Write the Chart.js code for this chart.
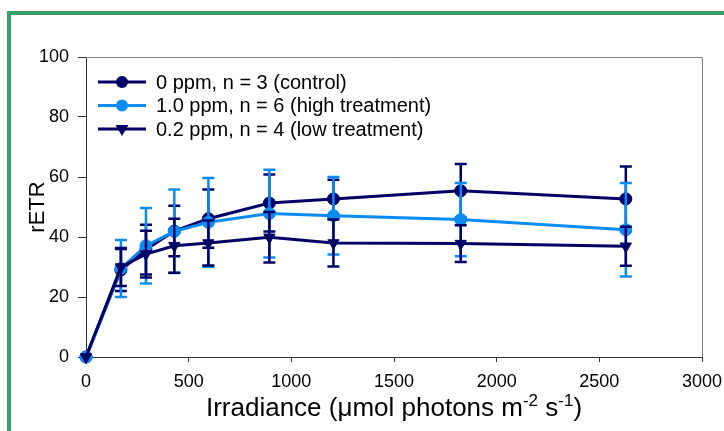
<!DOCTYPE html>
<html lang="en">
<head>
    <meta charset="UTF-8">
    <title>rETR vs irradiance</title>
    <script src="https://cdn.jsdelivr.net/npm/chart.js"></script>
    <style>
        body { margin: 0; background: #fff; }
        #frame {
            position: absolute; left: 7px; top: 11px; width: 800px; height: 500px;
            border-left: 4px solid #3a9d6c; border-top: 4px solid #3a9d6c;
        }
        #chart { position: absolute; left: 0; top: 0; }
    </style>
</head>
<body>
    <div id="frame"></div>
    <canvas id="chart" width="724" height="431"></canvas>

    <script>
        // irradiance steps (x) and rETR means / error bars
        const irradiance = [0, 170, 292, 430, 596, 893, 1205, 1825, 2629];
        const control = [0, 29, 35.8, 42, 46.1, 51.3, 52.7, 55.4, 52.7];
        const controlErr = [0, 7, 8.3, 8.4, 9.7, 9.5, 6.4, 8.9, 10.8];
        const high = [0, 29.5, 37.1, 41.9, 44.9, 47.8, 47.1, 45.8, 42.4];
        const highErr = [0, 9.5, 12.6, 13.9, 14.8, 14.6, 12.9, 12.2, 15.6];
        const low = [0, 30, 34.3, 37.1, 38, 39.9, 38, 37.8, 36.9];
        const lowErr = [0, 6.3, 7.8, 9, 7.5, 8.4, 7.8, 6.1, 6.5];
        const seriesNames = ['0 ppm, n = 3 (control)', '1.0 ppm, n = 6 (high treatment)', '0.2 ppm, n = 4 (low treatment)'];

        const navy = '#000066';
        const sky = '#0a8cf5';
        const font = "'Liberation Sans', Arial, sans-serif";

        function pts(ys) {
            return irradiance.map((x, i) => ({ x: x, y: ys[i] }));
        }

        function makeSet(label, ys, errs, color, style, order) {
            return {
                label: label,
                data: pts(ys),
                errors: errs,
                borderColor: color,
                backgroundColor: color,
                borderWidth: 3,
                pointStyle: style,
                pointRotation: style === 'triangle' ? 180 : 0,
                pointRadius: style === 'triangle' ? 6.5 : 6,
                pointBorderWidth: 1,
                tension: 0,
                clip: false,
                order: order
            };
        }

        // error bars, drawn with each series so the stacking follows the series
        const errorBars = {
            id: 'errorBars',
            beforeDatasetDraw(chart, args) {
                const ds = chart.data.datasets[args.index];
                const yScale = chart.scales.y;
                const ctx = chart.ctx;
                ctx.save();
                ctx.strokeStyle = ds.borderColor;
                ctx.lineWidth = 2.5;
                args.meta.data.forEach((pt, i) => {
                    const e = ds.errors[i];
                    if (!e) return;
                    const v = ds.data[i].y;
                    const top = yScale.getPixelForValue(v + e);
                    const bot = yScale.getPixelForValue(v - e);
                    ctx.beginPath();
                    ctx.moveTo(pt.x, top); ctx.lineTo(pt.x, bot);
                    ctx.moveTo(pt.x - 6, top); ctx.lineTo(pt.x + 6, top);
                    ctx.moveTo(pt.x - 6, bot); ctx.lineTo(pt.x + 6, bot);
                    ctx.stroke();
                });
                ctx.restore();
            }
        };

        // plot frame, axis titles and the legend
        const decorations = {
            id: 'decorations',
            beforeDatasetsDraw(chart) {
                const ctx = chart.ctx;
                const a = chart.chartArea;
                ctx.save();
                ctx.strokeStyle = '#808080';
                ctx.lineWidth = 1;
                ctx.beginPath();
                ctx.moveTo(a.left, a.top + 0.5);
                ctx.lineTo(a.right + 0.5, a.top + 0.5);
                ctx.lineTo(a.right + 0.5, a.bottom);
                ctx.stroke();
                ctx.restore();
            },
            afterDraw(chart) {
                const ctx = chart.ctx;
                const a = chart.chartArea;
                ctx.save();
                ctx.fillStyle = '#000';

                // y title
                ctx.font = '22px ' + font;
                ctx.textAlign = 'center';
                ctx.textBaseline = 'middle';
                ctx.translate(38, (a.top + a.bottom) / 2);
                ctx.rotate(-Math.PI / 2);
                ctx.fillText('rETR', 0, 0);
                ctx.setTransform(1, 0, 0, 1, 0, 0);

                // x title with superscripts
                const parts = [
                    ['Irradiance (\u03bcmol photons m', 26, 0],
                    ['-2', 17, -10],
                    [' s', 26, 0],
                    ['-1', 17, -10],
                    [')', 26, 0]
                ];
                ctx.textAlign = 'left';
                ctx.textBaseline = 'alphabetic';
                let w = 0;
                parts.forEach(p => { ctx.font = p[1] + 'px ' + font; w += ctx.measureText(p[0]).width; });
                let x = (a.left + a.right) / 2 - w / 2;
                const base = 416;
                parts.forEach(p => {
                    ctx.font = p[1] + 'px ' + font;
                    ctx.fillText(p[0], x, base + p[2]);
                    x += ctx.measureText(p[0]).width;
                });

                // legend
                const rows = [
                    [seriesNames[0], navy, 'circle'],
                    [seriesNames[1], sky, 'circle'],
                    [seriesNames[2], navy, 'triangle']
                ];
                ctx.font = '20px ' + font;
                ctx.textBaseline = 'middle';
                rows.forEach((r, i) => {
                    const y = 82 + i * 23.5;
                    ctx.strokeStyle = r[1];
                    ctx.fillStyle = r[1];
                    ctx.lineWidth = 3;
                    ctx.beginPath();
                    ctx.moveTo(98, y); ctx.lineTo(146, y);
                    ctx.stroke();
                    ctx.beginPath();
                    if (r[2] === 'circle') {
                        ctx.arc(122, y, 6, 0, Math.PI * 2);
                    } else {
                        ctx.moveTo(115.5, y - 4); ctx.lineTo(128.5, y - 4); ctx.lineTo(122, y + 7);
                        ctx.closePath();
                    }
                    ctx.fill();
                    ctx.fillStyle = '#000';
                    ctx.fillText(r[0], 156, y + 1);
                });
                ctx.restore();
            }
        };

        const ctx = document.getElementById('chart').getContext('2d');
        const chart = new Chart(ctx, {
            type: 'line',
            data: {
                datasets: [
                    makeSet(seriesNames[0], control, controlErr, navy, 'circle', 3),
                    makeSet(seriesNames[1], high, highErr, sky, 'circle', 2),
                    makeSet(seriesNames[2], low, lowErr, navy, 'triangle', 1)
                ]
            },
            options: {
                responsive: false,
                animation: false,
                devicePixelRatio: 1,
                layout: { padding: { left: 0, top: 57, right: 22, bottom: 0 } },
                plugins: { legend: { display: false }, tooltip: { enabled: false } },
                scales: {
                    x: {
                        type: 'linear',
                        min: 0, max: 3000,
                        afterFit(s) { s.height = 74; s.paddingLeft = 0; s.paddingRight = 0; },
                        ticks: {
                            stepSize: 500, color: '#000', padding: 9,
                            font: { size: 18, family: font },
                            callback: v => String(v)
                        },
                        grid: { drawOnChartArea: false, drawTicks: true, tickLength: 5, tickColor: '#333' },
                        border: { color: '#333', width: 1 }
                    },
                    y: {
                        min: 0, max: 100,
                        afterFit(s) { s.width = 86; s.paddingTop = 0; s.paddingBottom = 0; },
                        ticks: { stepSize: 20, color: '#000', padding: 9, font: { size: 18, family: font } },
                        grid: { drawOnChartArea: false, drawTicks: true, tickLength: 8, tickColor: '#333' },
                        border: { color: '#333', width: 1 }
                    }
                }
            },
            plugins: [errorBars, decorations]
        });
    </script>
</body>
</html>
